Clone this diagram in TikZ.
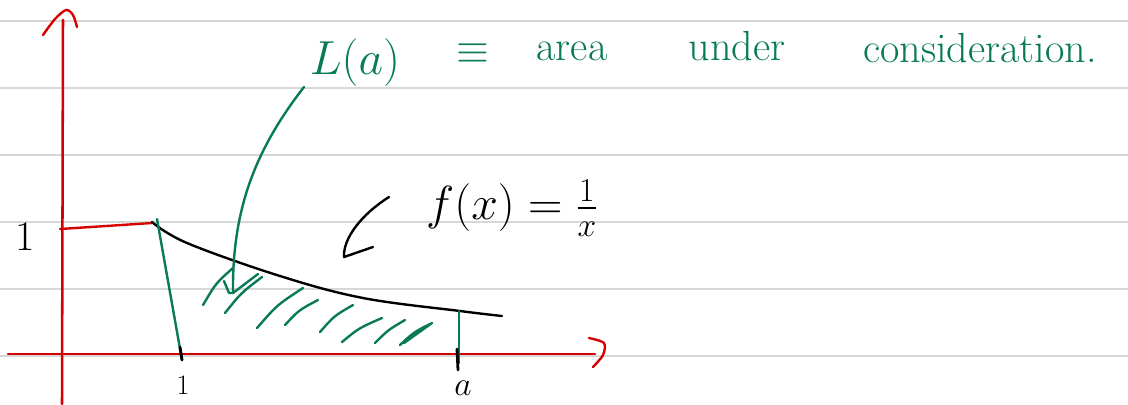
\RequirePackage{fix-cm}
\documentclass[tikz,border=0pt]{standalone}
\usepackage{amsmath}
\definecolor{penGreen}{RGB}{8, 122, 88}
\definecolor{penRed}{RGB}{214, 0, 0}
\definecolor{ruleGray}{RGB}{216, 216, 216}
\tikzset{
    pen/.style={line width=1.7pt, line cap=round, line join=round},
    hand/.style={font=\fontsize{30}{34}\selectfont},
}

\begin{document}
\begin{tikzpicture}[x=0.025cm, y=-0.025cm]
    \fill[white] (0,0) rectangle (1128,404);
    \useasboundingbox (0,0) rectangle (1128,404);

    % ruled paper
    \foreach \y in {21,88,155,222,289,356}
        \draw[ruleGray, line width=0.9pt] (0,\y) -- (1128,\y);

    % axes
    \draw[pen, penRed, line width=1.8pt] (62,404) -- (63,20);
    \draw[pen, penRed] plot[smooth] coordinates {(43,35) (55,19) (66,10) (73,15) (77,27)};
    \draw[pen, penRed, line width=1.8pt] (8,354) -- (595,354);
    \draw[pen, penRed] plot[smooth] coordinates {(589,338) (604,343) (603,355) (593,367)};
    \draw[pen, penRed] (60,229) -- (152,223);

    % curve 1/x
    \draw[pen, black] plot[smooth, tension=0.6] coordinates {(152,222) (187,243) (280,276)
        (363,298) (460,311) (502,316)};

    % limits of the area
    \draw[pen, penGreen] (157,219) -- (182,360);
    \draw[pen, penGreen] (459,311) -- (459,363);
    \draw[pen, black, line width=2pt] (180,347) -- (182,360);
    \draw[pen, black, line width=2pt] (457,349) -- (458,370);

    % hatching
    \draw[pen, penGreen] (203,305) .. controls (216,283) .. (233,268);
    \draw[pen, penGreen] (225,313) .. controls (241,293) .. (262,277);
    \draw[pen, penGreen] (257,328) .. controls (277,305) .. (303,288);
    \draw[pen, penGreen] (285,325) .. controls (299,310) .. (318,300);
    \draw[pen, penGreen] (320,332) .. controls (334,316) .. (353,305);
    \draw[pen, penGreen] (342,342) .. controls (359,328) .. (382,318);
    \draw[pen, penGreen] (375,343) .. controls (388,330) .. (405,320);
    \draw[pen, penGreen] (400,345) .. controls (414,332) .. (432,323)
        .. controls (418,332) .. (404,343);

    % labels
    \node[hand, font=\fontsize{34}{38}\selectfont, text=penGreen, anchor=base] (La) at (355,74) {$L(a)$};
    \node[hand, text=penGreen] (equiv) at (473,54) {$\equiv$};
    \node[hand, text=penGreen, anchor=base] (area) at (572,60) {area};
    \node[hand, text=penGreen, anchor=base] (under) at (737,60) {under};
    \node[hand, text=penGreen, anchor=base] (consid) at (980,62) {consideration.};
    \node[font=\fontsize{34}{38}\selectfont] (fx) at (512,208) {$f(x) = \frac{1}{x}$};
    \node[hand] (one) at (25,237) {1};
    \node[font=\fontsize{20}{24}\selectfont] (tickOne) at (183,385) {1};
    \node[font=\fontsize{24}{28}\selectfont] (tickA) at (463,388) {$a$};

    % pointers
    \coordinate (areaTip) at (233,293);
    \coordinate (fxTip) at (344,257);
    \draw[pen, penGreen] (304,87) .. controls (255,150) and (232,210) .. (areaTip);
    \draw[pen, penGreen] (224,281) -- (229,293) -- (areaTip) -- (258,274);
    \draw[pen, black] (389,197) .. controls (362,214) and (343,238) .. (fxTip) -- (373,247);
\end{tikzpicture}
\end{document}
